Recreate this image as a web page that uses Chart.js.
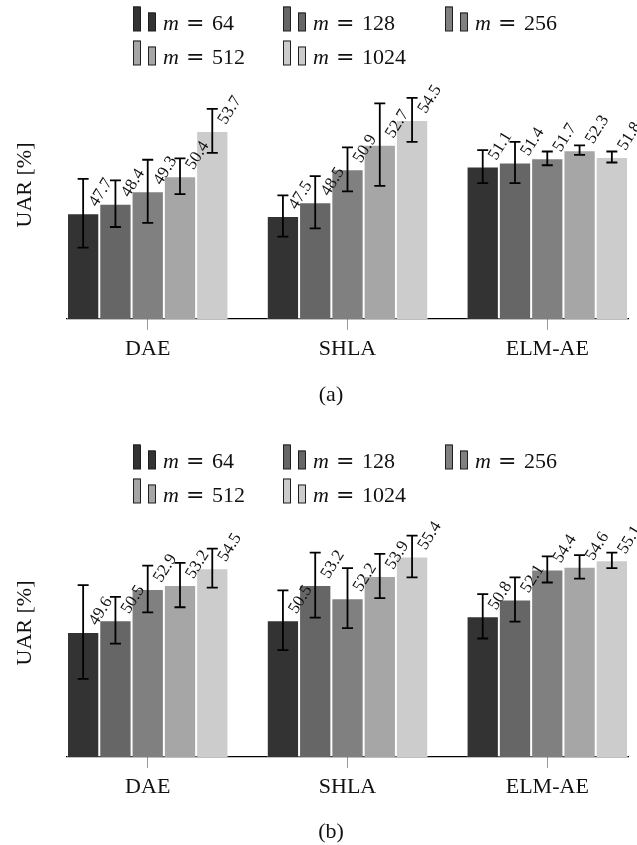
<!DOCTYPE html>
<html>
<head>
<meta charset="utf-8">
<script src="https://cdn.jsdelivr.net/npm/chart.js@4.4.1/dist/chart.umd.min.js"></script>
<style>
  body { margin: 0; background: #fff; width: 637px; height: 845px; overflow: hidden; position: relative; }
  .fig { position: absolute; left: 0; width: 637px; height: 420px; }
</style>
</head>
<body>
<div class="fig" style="top:0"><canvas id="chartA" width="637" height="420"></canvas></div>
<div class="fig" style="top:438px"><canvas id="chartB" width="637" height="420"></canvas></div>
<script>
// categories and hidden sizes
const methods = ['DAE', 'SHLA', 'ELM-AE'];
const sizes = [64, 128, 256, 512, 1024];
const barColors = ['#333333', '#666666', '#808080', '#a6a6a6', '#cccccc'];

// (a) mean UAR [%] per method, one array per m
const uarA64 = [47.7, 47.5, 51.1];
const uarA128 = [48.4, 48.5, 51.4];
const uarA256 = [49.3, 50.9, 51.7];
const uarA512 = [50.4, 52.7, 52.3];
const uarA1024 = [53.7, 54.5, 51.8];
// (a) standard deviations
const errA64 = [2.5, 1.5, 1.2];
const errA128 = [1.7, 1.9, 1.5];
const errA256 = [2.3, 1.6, 0.5];
const errA512 = [1.3, 3.0, 0.35];
const errA1024 = [1.6, 1.6, 0.4];

// (b) mean UAR [%]
const uarB64 = [49.6, 50.5, 50.8];
const uarB128 = [50.5, 53.2, 52.1];
const uarB256 = [52.9, 52.2, 54.4];
const uarB512 = [53.2, 53.9, 54.6];
const uarB1024 = [54.5, 55.4, 55.1];
// (b) standard deviations
const errB64 = [3.6, 2.3, 1.7];
const errB128 = [1.8, 2.5, 1.7];
const errB256 = [1.8, 2.3, 1.0];
const errB512 = [1.7, 1.7, 0.9];
const errB1024 = [1.5, 1.6, 0.6];

const serif = 'Liberation Serif';

// whiskers: mean +/- std
const errorBars = {
  id: 'errorBars',
  afterDatasetsDraw(chart) {
    const { ctx } = chart;
    const y = chart.scales.y;
    ctx.save();
    ctx.strokeStyle = '#000';
    ctx.lineWidth = 1.8;
    chart.data.datasets.forEach((ds, k) => {
      chart.getDatasetMeta(k).data.forEach((bar, i) => {
        const v = ds.data[i].y, e = ds.errors[i];
        const top = y.getPixelForValue(v + e);
        const bottom = y.getPixelForValue(v - e);
        ctx.beginPath();
        ctx.moveTo(bar.x, top); ctx.lineTo(bar.x, bottom);
        ctx.moveTo(bar.x - 5.5, top); ctx.lineTo(bar.x + 5.5, top);
        ctx.moveTo(bar.x - 5.5, bottom); ctx.lineTo(bar.x + 5.5, bottom);
        ctx.stroke();
      });
    });
    ctx.restore();
  }
};

// slanted value above every bar
const valueLabels = {
  id: 'valueLabels',
  afterDatasetsDraw(chart) {
    const { ctx } = chart;
    ctx.save();
    ctx.fillStyle = '#111';
    ctx.font = '17px "' + serif + '"';
    ctx.textAlign = 'left';
    ctx.textBaseline = 'alphabetic';
    chart.data.datasets.forEach((ds, k) => {
      chart.getDatasetMeta(k).data.forEach((bar, i) => {
        ctx.save();
        ctx.translate(bar.x, bar.y);
        ctx.rotate(-58 * Math.PI / 180);
        ctx.fillText(ds.data[i].y.toFixed(1), 12, 8.5);
        ctx.restore();
      });
    });
    ctx.restore();
  }
};

// two-bar legend glyphs, laid out in three columns
const barLegend = {
  id: 'barLegend',
  afterDraw(chart) {
    const { ctx } = chart;
    const cols = [133, 283, 445];
    const rows = [29.5, 63.5];
    ctx.save();
    chart.data.datasets.forEach((ds, k) => {
      const x = cols[k % 3];
      const base = rows[Math.floor(k / 3)];
      ctx.fillStyle = ds.backgroundColor;
      ctx.strokeStyle = '#1e1e1e';
      ctx.lineWidth = 1;
      ctx.fillRect(x, base - 23, 7, 24.5);
      ctx.strokeRect(x + 0.5, base - 22.5, 7, 24);
      ctx.fillRect(x + 15, base - 17, 7, 18.5);
      ctx.strokeRect(x + 15.5, base - 16.5, 7, 18);
      ctx.fillStyle = '#111';
      ctx.textBaseline = 'alphabetic';
      ctx.textAlign = 'left';
      ctx.font = 'italic 22px "' + serif + '"';
      ctx.fillText('m', x + 30, base);
      ctx.font = '22px "DejaVu Serif"';
      ctx.fillText('=', x + 53, base);
      ctx.font = '22px "' + serif + '"';
      ctx.fillText(String(sizes[k]), x + 79, base);
    });
    ctx.restore();
  }
};

const caption = {
  id: 'caption',
  afterDraw(chart, args, opts) {
    const { ctx } = chart;
    ctx.save();
    ctx.fillStyle = '#111';
    ctx.font = '22px "' + serif + '"';
    ctx.textAlign = 'center';
    ctx.textBaseline = 'alphabetic';
    ctx.fillText(opts.text, 331, opts.y);
    ctx.restore();
  }
};

function buildChart(id, values, errors, yMax, captionText, captionY) {
  const tickFont = { family: serif, size: 22 };
  return new Chart(document.getElementById(id), {
    type: 'bar',
    data: {
      datasets: sizes.map((m, k) => ({
        label: 'm = ' + m,
        data: values[k].map((v, i) => ({ x: i, y: v })),
        errors: errors[k],
        backgroundColor: barColors[k],
        borderColor: 'rgba(255,255,255,0.45)',
        borderWidth: 1,
        categoryPercentage: 0.808,
        barPercentage: 1
      }))
    },
    options: {
      responsive: false,
      animation: false,
      layout: { padding: { top: 51, right: 9, bottom: 51, left: 0 } },
      plugins: {
        legend: { display: false },
        tooltip: { enabled: false },
        caption: { text: captionText, y: captionY }
      },
      scales: {
        x: {
          type: 'linear',
          min: -0.404,
          max: 2.404,
          offset: false,
          afterBuildTicks: s => { s.ticks = methods.map((_, i) => ({ value: i })); },
          afterFit: s => { s.height = 50; },
          ticks: {
            callback: v => methods[v],
            font: tickFont,
            color: '#111',
            padding: 6,
            maxRotation: 0,
            autoSkip: false
          },
          grid: { drawOnChartArea: false, tickLength: 11, color: '#9a9a9a', offset: false },
          border: { color: '#000', width: 1.2 }
        },
        y: {
          min: 40,
          max: yMax,
          afterFit: s => { s.width = 67; },
          ticks: { display: false },
          grid: { display: false },
          border: { display: false },
          title: {
            display: true,
            text: 'UAR [%]',
            font: tickFont,
            color: '#111',
            padding: { top: 12, bottom: 0 }
          }
        }
      }
    },
    plugins: [errorBars, valueLabels, barLegend, caption]
  });
}

buildChart('chartA',
  [uarA64, uarA128, uarA256, uarA512, uarA1024],
  [errA64, errA128, errA256, errA512, errA1024],
  59.52, '(a)', 401);

buildChart('chartB',
  [uarB64, uarB128, uarB256, uarB512, uarB1024],
  [errB64, errB128, errB256, errB512, errB1024],
  60.58, '(b)', 400);
</script>
</body>
</html>
